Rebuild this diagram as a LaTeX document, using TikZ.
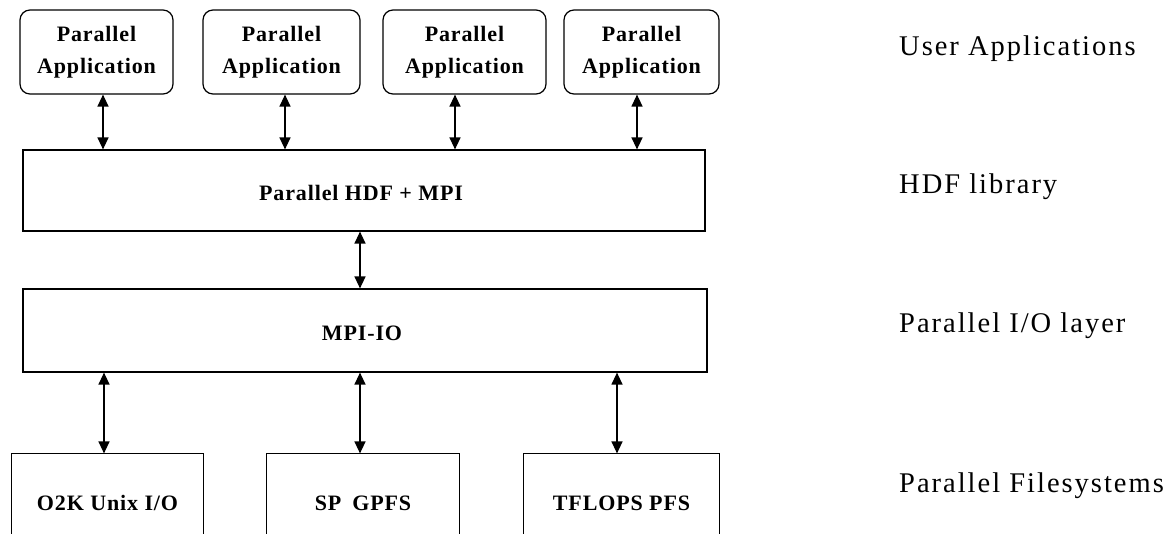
\documentclass[tikz,border=0pt]{standalone}
\usepackage{fontspec}
\setmainfont{Liberation Serif}[LetterSpace=4]
\newfontfamily\lblfont{Liberation Serif}[LetterSpace=7]
\usetikzlibrary{arrows.meta}
\begin{document}
\begin{tikzpicture}[x=1pt,y=-1pt,
  appbox/.style={draw,rounded corners=10pt,line width=1.2pt,minimum height=84pt,align=center,
    font=\fontsize{22}{32}\selectfont\bfseries,inner sep=0pt},
  layerbox/.style={draw,line width=1.2pt,inner sep=0pt},
  boxtext/.style={inner sep=0pt,font=\fontsize{22}{26}\selectfont\bfseries},
  fsbox/.style={line width=1.2pt,inner sep=0pt,minimum height=98pt,font=\fontsize{22}{26}\selectfont\bfseries},
  layerlabel/.style={anchor=west,inner sep=0pt,font=\lblfont\fontsize{28.5}{32}\selectfont},
  biarrow/.style={line width=1.3pt,{Triangle[width=11pt,length=12pt]}-{Triangle[width=11pt,length=12pt]}}
]
\useasboundingbox (0,0) rectangle (1166,533);
\clip (0,0) rectangle (1166,533);

% user applications
\node[appbox,minimum width=153pt] (a1) at (96.5,52) {Parallel\\Application};
\node[appbox,minimum width=157pt] (a2) at (281.5,52) {Parallel\\Application};
\node[appbox,minimum width=163pt] (a3) at (464.5,52) {Parallel\\Application};
\node[appbox,minimum width=155pt] (a4) at (641.5,52) {Parallel\\Application};

% HDF library
\node[layerbox,minimum width=682pt,minimum height=81pt] (hdf) at (364,190.5) {};
\node[boxtext] (hdft) at (361,193) {Parallel HDF + MPI};

% MPI-IO
\node[layerbox,minimum width=684pt,minimum height=83pt] (mpi) at (365,330.5) {};
\node[boxtext] (mpit) at (362,333) {MPI-IO};

% filesystems
\node[fsbox,minimum width=191pt] (b1) at (107.5,503) {O2K Unix I/O};
\node[fsbox,minimum width=192pt] (b2) at (363,503) {SP\enspace GPFS};
\node[fsbox,minimum width=195pt] (b3) at (621.5,503) {TFLOPS PFS};
\foreach \b in {b1,b2,b3}{
  \draw[line width=1.2pt] (\b.south west) -- (\b.north west) -- (\b.north east) -- (\b.south east);
}

% arrows
\draw[biarrow] ([xshift=6.5pt]a1.south) -- ([xshift=6.5pt]a1.south |- hdf.north);
\draw[biarrow] ([xshift=3.5pt]a2.south) -- ([xshift=3.5pt]a2.south |- hdf.north);
\draw[biarrow] ([xshift=-9.5pt]a3.south) -- ([xshift=-9.5pt]a3.south |- hdf.north);
\draw[biarrow] ([xshift=-4.5pt]a4.south) -- ([xshift=-4.5pt]a4.south |- hdf.north);
\draw[biarrow] ([xshift=-4pt]hdf.south) -- ([xshift=-4pt]hdf.south |- mpi.north);
\draw[biarrow] ([xshift=-3.5pt]b1.north |- mpi.south) -- ([xshift=-3.5pt]b1.north);
\draw[biarrow] ([xshift=-3pt]b2.north |- mpi.south) -- ([xshift=-3pt]b2.north);
\draw[biarrow] ([xshift=-4.5pt]b3.north |- mpi.south) -- ([xshift=-4.5pt]b3.north);

% layer labels
\node[layerlabel] (l1) at (899,49) {User Applications};
\node[layerlabel] (l2) at (899,187) {HDF library};
\node[layerlabel] (l3) at (899,326) {Parallel I/O layer};
\node[layerlabel] (l4) at (899,486) {Parallel Filesystems};
\end{tikzpicture}
\end{document}
